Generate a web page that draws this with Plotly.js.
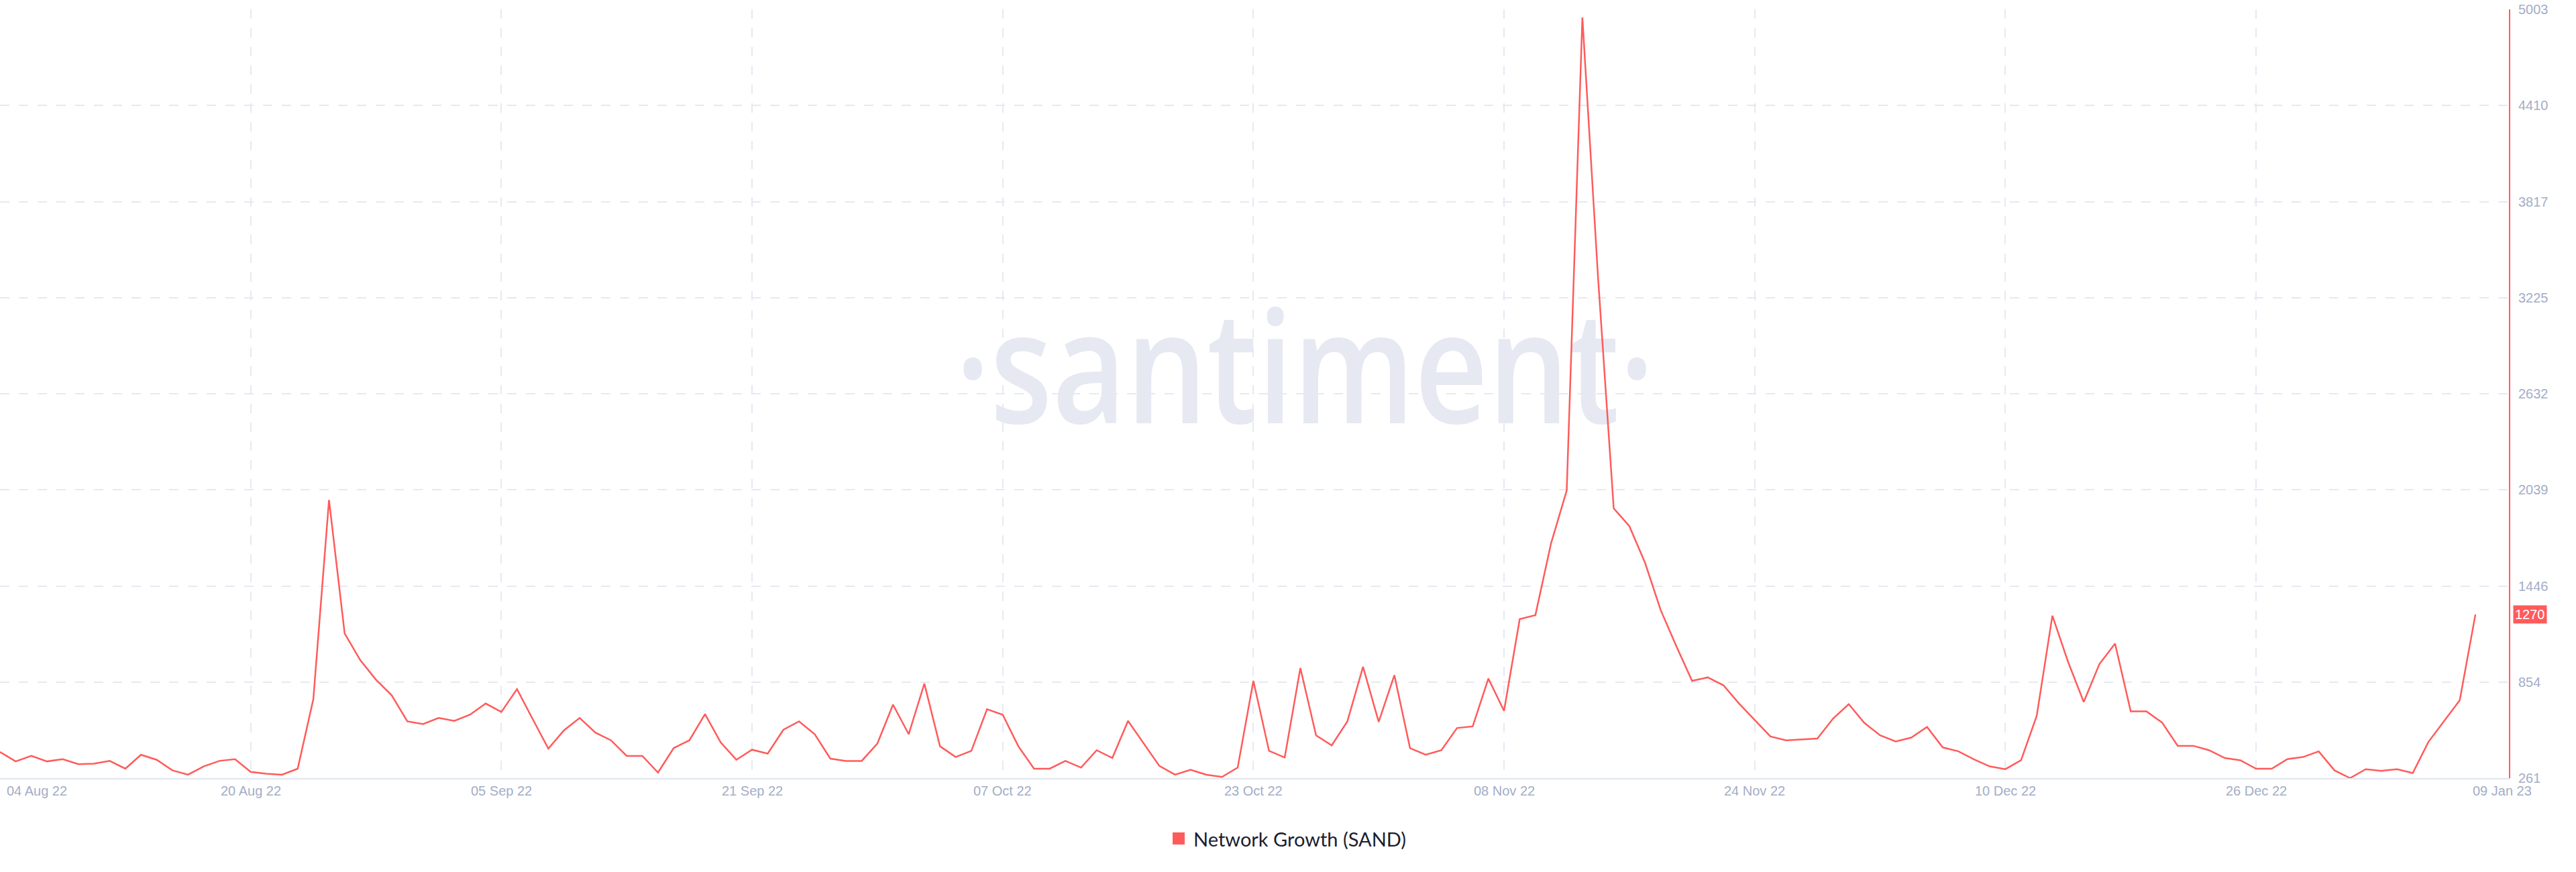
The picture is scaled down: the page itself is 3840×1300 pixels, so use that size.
<!DOCTYPE html>
<html><head><meta charset="utf-8">
<script src="https://cdn.plot.ly/plotly-3.0.1.min.js"></script>
<style>
html,body{margin:0;padding:0;background:#fff;}
#wrap{position:relative;width:3840px;height:1300px;overflow:hidden;}
#wm{position:absolute;left:1945px;top:463px;font-family:'Open Sans',sans-serif;font-weight:600;font-size:190px;line-height:1;color:#e6e9f2;white-space:nowrap;transform-origin:50% 169px;transform:translateX(-50%) scaleY(1.22);}
#chart{position:absolute;left:0;top:0;width:3840px;height:1300px;}
</style></head>
<body><div id="wrap"><div id="wm">·santiment·</div><div id="chart"></div></div>
<script>
// ---- data ----
const startDate = '2022-08-04';
const seriesName = 'Network Growth (SAND)';
const networkGrowth = [
  422, 364, 398, 364, 378, 347, 350, 367, 319, 405,
  374, 309, 282, 333, 367, 378, 299, 288, 282, 319,
  748, 1977, 1153, 988, 868, 772, 611, 594, 632, 614,
  652, 721, 669, 810, 625, 443, 556, 632, 542, 494,
  398, 398, 295, 446, 494, 656, 481, 374, 436, 412,
  559, 611, 532, 381, 367, 367, 474, 714, 532, 844,
  457, 391, 429, 686, 652, 457, 319, 319, 367, 326,
  433, 385, 614, 474, 336, 282, 312, 282, 268, 326,
  861, 429, 388, 940, 525, 463, 611, 947, 608, 896,
  446, 405, 433, 570, 580, 875, 676, 1242, 1266, 1709,
  2035, 4953, 3350, 1925, 1815, 1589, 1297, 1074, 861, 882,
  834, 721, 618, 518, 494, 501, 505, 628, 717, 601,
  525, 487, 511, 577, 450, 426, 376, 333, 316, 371,
  645, 1263, 978, 731, 964, 1091, 673, 673, 604, 460,
  460, 433, 385, 371, 319, 319, 378, 391, 426, 309,
  261, 316, 306, 316, 292, 484, 611, 741, 1270
];
const yTickLabels = [261, 854, 1446, 2039, 2632, 3225, 3817, 4410, 5003];
const xTickDates = ['2022-08-04','2022-08-20','2022-09-05','2022-09-21','2022-10-07',
                    '2022-10-23','2022-11-08','2022-11-24','2022-12-10','2022-12-26'];
const xTickLabels = ['04 Aug 22','20 Aug 22','05 Sep 22','21 Sep 22','07 Oct 22',
                     '23 Oct 22','08 Nov 22','24 Nov 22','10 Dec 22','26 Dec 22'];
const lastTickDate = '2023-01-09';
const lastTickLabel = '09 Jan 23';

// daily dates
const dates = networkGrowth.map((_, i) => {
  const d = new Date(startDate + 'T00:00:00Z');
  d.setUTCDate(d.getUTCDate() + i);
  return d.toISOString().slice(0, 10);
});

// ---- styling ----
const RED = '#ff5b5b';
const GRID = '#e6e9f2';
const TICK = '#a3adc6';
const W = 3840, H = 1300;
const M = {l: 0, r: 100, t: 14, b: 140};
const plotW = W - M.l - M.r, plotH = H - M.t - M.b;
const px = x => (x - M.l) / plotW;
const py = y => (H - M.b - y) / plotH;

const annotations = [];
xTickLabels.forEach((t, i) => {
  annotations.push({
    x: xTickDates[i], xref: 'x', y: 0, yref: 'paper',
    text: t, showarrow: false,
    xanchor: i === 0 ? 'left' : 'center', xshift: i === 0 ? 8 : 0,
    yanchor: 'middle', yshift: -19,
    font: {family: 'Liberation Sans, Arial, sans-serif', size: 20, color: TICK}
  });
});
annotations.push({
  x: lastTickDate, xref: 'x', y: 0, yref: 'paper',
  text: lastTickLabel, showarrow: false, xanchor: 'left', xshift: -6,
  yanchor: 'middle', yshift: -19,
  font: {family: 'Liberation Sans, Arial, sans-serif', size: 20, color: TICK}
});
// last value badge
const lastVal = networkGrowth[networkGrowth.length - 1];
annotations.push({
  x: 1, xref: 'paper', y: lastVal, yref: 'y',
  text: String(lastVal), showarrow: false, xanchor: 'left', xshift: 6,
  yanchor: 'middle', bgcolor: RED, borderpad: 2,
  font: {family: 'Liberation Sans, Arial, sans-serif', size: 20, color: '#ffffff'}
});
// legend text
annotations.push({
  x: px(1777), xref: 'paper', y: py(1250), yref: 'paper',
  text: seriesName, showarrow: false, xanchor: 'left', yanchor: 'middle',
  font: {family: 'Lato, sans-serif', size: 29, color: '#1b1e2f'}
});

const shapes = [{
  type: 'rect', xref: 'paper', yref: 'paper',
  x0: px(1748), x1: px(1766), y0: py(1259), y1: py(1241),
  fillcolor: RED, line: {width: 0}
}];

const trace = {
  x: dates, y: networkGrowth, type: 'scatter', mode: 'lines',
  name: seriesName, line: {color: RED, width: 2.5}, cliponaxis: false,
  hoverinfo: 'skip', showlegend: false
};

const layout = {
  width: W, height: H, margin: M,
  paper_bgcolor: 'rgba(0,0,0,0)', plot_bgcolor: 'rgba(0,0,0,0)',
  showlegend: false,
  xaxis: {
    type: 'date', range: ['2022-08-04', '2023-01-11 03:20'],
    tickvals: xTickDates, showticklabels: false, ticks: '',
    showgrid: true, gridcolor: GRID, gridwidth: 2, griddash: '14px,14px',
    showline: true, linecolor: '#e1e5ef', linewidth: 2, zeroline: false
  },
  yaxis: {
    side: 'right', range: [261, 5003],
    tickvals: yTickLabels, ticktext: yTickLabels.map(String), ticks: '',
    ticklabelstandoff: 8,
    tickfont: {family: 'Liberation Sans, Arial, sans-serif', size: 20, color: TICK},
    showgrid: true, gridcolor: GRID, gridwidth: 2, griddash: '14px,14px',
    showline: true, linecolor: RED, linewidth: 2, zeroline: false
  },
  annotations: annotations, shapes: shapes,
  font: {family: 'Liberation Sans, Arial, sans-serif'}
};

Plotly.newPlot('chart', [trace], layout, {displayModeBar: false, staticPlot: true});
</script>
</body></html>
